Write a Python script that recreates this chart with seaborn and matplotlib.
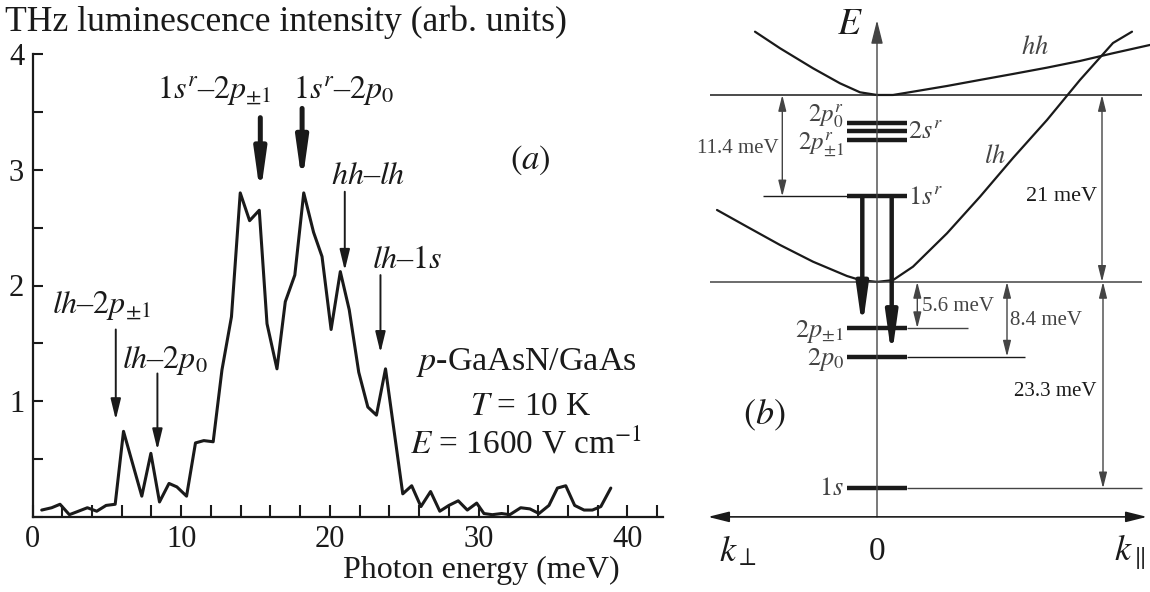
import numpy as np
import matplotlib
matplotlib.use("Agg")
import matplotlib.pyplot as plt
import seaborn as sns

# ---- panel (a): THz luminescence spectrum ----
energy = [0.62, 1.29, 1.85, 2.48, 3.09, 3.69, 4.32, 4.95, 5.56, 6.12,
          7.35, 7.96, 8.54, 9.18, 9.71, 10.36, 10.96, 11.52, 12.15, 12.74,
          13.38, 13.97, 14.60, 15.25, 15.77, 16.44, 17.00, 17.64, 18.24, 18.90,
          19.47, 20.08, 20.70, 21.30, 21.94, 22.55, 23.13, 23.74, 24.90, 25.50,
          26.12, 26.77, 27.39, 28.00, 28.63, 29.24, 29.87, 30.36, 30.92, 31.55,
          32.10, 32.83, 33.45, 34.06, 34.73, 35.30, 35.86, 36.46, 37.09, 37.65,
          38.22, 38.89]
intensity = [0.06, 0.08, 0.11, 0.02, 0.05, 0.08, 0.05, 0.10, 0.11, 0.74,
             0.18, 0.55, 0.13, 0.29, 0.26, 0.18, 0.64, 0.66, 0.65, 1.27,
             1.73, 2.80, 2.56, 2.65, 1.67, 1.28, 1.86, 2.09, 2.80, 2.46,
             2.25, 1.62, 2.12, 1.79, 1.25, 0.95, 0.88, 1.28, 0.20, 0.27,
             0.09, 0.22, 0.05, 0.10, 0.14, 0.06, 0.12, 0.03, 0.02, 0.03,
             0.02, 0.08, 0.07, 0.03, 0.10, 0.25, 0.27, 0.10, 0.06, 0.06,
             0.09, 0.25]

# transition labels and their arrows
trans_labels = [r"$1s^r$–$2p_{\pm1}$", r"$1s^r$–$2p_0$", r"$hh$–$lh$",
                r"$lh$–$1s$", r"$lh$–$2p_{\pm1}$", r"$lh$–$2p_0$"]
trans_text_x = [12.2, 20.9, 22.6, 25.2, 1.3, 6.0]
trans_text_y = [3.62, 3.62, 2.88, 2.15, 1.76, 1.29]
trans_text_ha = ["center", "center", "center", "center", "left", "left"]
trans_arrow_x = [15.32, 18.13, 21.0, 23.4, 5.6, 8.4]
trans_arrow_top = [3.45, 3.53, 2.81, 2.09, 1.62, 1.24]
trans_arrow_tip = [2.78, 2.88, 2.13, 1.42, 0.84, 0.58]
trans_thick = [True, True, False, False, False, False]

# ---- panel (b): energy scheme, E in meV (hh edge = 0), k in arb. units ----
hh_k = [-1.22, -0.97, -0.64, -0.37, -0.17, 0.0, 0.16, 0.36, 0.70, 1.03, 1.36, 1.70, 2.03, 2.36, 2.73]
hh_E = [7.11, 5.25, 3.00, 1.31, 0.30, 0.0, 0.0, 0.37, 1.01, 1.69, 2.36, 3.07, 3.82, 4.69, 5.62]
lh_k = [-1.60, -1.30, -0.97, -0.64, -0.30, -0.17, 0.0, 0.16, 0.36, 0.70, 1.03, 1.36, 1.70, 2.03, 2.36, 2.55]
lh_E = [-12.92, -14.80, -16.85, -18.73, -20.34, -20.79, -21.0, -20.8, -19.29, -15.54,
        -11.43, -7.08, -2.81, 1.69, 5.84, 7.11]

level_names = ["2p0r", "2sr", "2p1r", "1sr", "2p1", "2p0", "1s"]
level_E = [-3.1, -4.0, -5.1, -11.4, -26.2, -29.4, -44.2]
edge_E = [0.0, -21.0]          # hh and lh band edges
k_axis_E = -47.4
E_axis_top = 8.4

# dimension arrows
dim_x = [-0.947, 2.25, 0.403, 1.30, 2.26]
dim_from = [0.0, 0.0, -21.0, -21.0, -21.0]
dim_to = [-11.4, -21.0, -26.2, -29.4, -44.2]
dim_labels = ["11.4 meV", "21 meV", "5.6 meV", "8.4 meV", "23.3 meV"]

sns.set_style("ticks")
plt.rcParams['font.family'] = ['Liberation Serif', 'DejaVu Serif']
plt.rcParams['mathtext.fontset'] = 'stix'

W, H = 1150, 592
fig = plt.figure(figsize=(W / 100, H / 100), dpi=100)
ink = "#1a1a1a"

thick_head = "-|>,head_length=1.0,head_width=0.14"
thin_head = "-|>,head_length=0.7,head_width=0.17"

# ================= panel (a) =================
ax = fig.add_axes([32.5 / W, (H - 517) / H, (663 - 32.5) / W, (517 - 54) / H])
sns.lineplot(x=energy, y=intensity, ax=ax, color=ink, lw=2.2, sort=False)
ax.set_xlim(0, 42.4)
ax.set_ylim(0, 4)
sns.despine(ax=ax)
for s in ["left", "bottom"]:
    ax.spines[s].set_linewidth(1.6)
    ax.spines[s].set_color(ink)
ax.set_xticks([0, 10, 20, 30, 40])
ax.set_xticks(np.arange(0, 43, 2), minor=True)
ax.set_yticks([1, 2, 3, 4])
ax.set_yticks(np.arange(0, 4.01, 0.5), minor=True)
ax.tick_params(which="both", direction="in", width=1.5, length=7, colors=ink,
               labelsize=22, pad=6)
ax.tick_params(axis="x", which="both", length=9)
ax.set_xlabel("")
ax.set_ylabel("")

fig.text(5 / W, 1 - 22 / H, "THz luminescence intensity (arb. units)",
         fontsize=25.7, color=ink, va="center", ha="left")
fig.text(620 / W, 1 - 570 / H, "Photon energy (meV)",
         fontsize=23, color=ink, va="center", ha="right")

for i, lab in enumerate(trans_labels):
    ax.text(trans_text_x[i], trans_text_y[i], lab, fontsize=23, color=ink,
            ha=trans_text_ha[i], va="baseline")
    thick = trans_thick[i]
    ax.annotate("", xy=(trans_arrow_x[i], trans_arrow_tip[i]),
                xytext=(trans_arrow_x[i], trans_arrow_top[i]),
                arrowprops=dict(arrowstyle=thick_head if thick else thin_head,
                                color=ink, lw=3.6 if thick else 1.4,
                                mutation_scale=24 if thick else 18,
                                shrinkA=0, shrinkB=0))

ax.text(33.5, 3.08, r"$(a)$", fontsize=25, color=ink, ha="center", va="center")
ax.text(33.2, 1.27, r"$p$-GaAsN/GaAs", fontsize=24.5, color=ink, ha="center", va="baseline")
ax.text(33.5, 0.88, r"$T$ = 10 K", fontsize=24, color=ink, ha="center", va="baseline")
ax.text(33.2, 0.55, r"$E$ = 1600 V cm$^{-1}$", fontsize=24, color=ink, ha="center", va="baseline")

# ================= panel (b) =================
bx = fig.add_axes([680 / W, 0, 470 / W, 1])
bx.set_xlim(-1.97, 2.73)
bx.set_ylim(-55.84, 10.67)
bx.axis("off")
gray = "#444444"

sns.lineplot(x=hh_k, y=hh_E, ax=bx, color=ink, lw=1.6, sort=False)
sns.lineplot(x=lh_k, y=lh_E, ax=bx, color=ink, lw=1.6, sort=False)

# band edges
bx.hlines(edge_E, -1.67, 2.65, color=[ink, gray], lw=1.1)
# energy axis and k axis
bx.annotate("", xy=(0, E_axis_top), xytext=(0, k_axis_E),
            arrowprops=dict(arrowstyle="-|>,head_length=0.8,head_width=0.2",
                            color=gray, lw=1.0, mutation_scale=18,
                            shrinkA=0, shrinkB=0))
bx.annotate("", xy=(2.70, k_axis_E), xytext=(-1.69, k_axis_E),
            arrowprops=dict(arrowstyle="<|-|>,head_length=0.8,head_width=0.2",
                            color=ink, lw=1.2, mutation_scale=16,
                            shrinkA=0, shrinkB=0))

# impurity levels (thick) and thin extensions
bx.hlines(level_E, -0.30, 0.30, color=ink, lw=3.2)
lv = dict(zip(level_names, level_E))
bx.hlines(lv["1sr"], -1.14, -0.30, color=ink, lw=1.0)
bx.hlines(lv["2p1"], 0.30, 0.913, color=gray, lw=1.0)
bx.hlines(lv["2p0"], 0.30, 1.48, color=ink, lw=1.0)
bx.hlines(lv["1s"], 0.30, 2.65, color=gray, lw=1.0)

# optical transitions 1s^r -> 2p
for kx, target in [(-0.147, lv["2p1"]), (0.147, lv["2p0"])]:
    bx.annotate("", xy=(kx, target), xytext=(kx, lv["1sr"]),
                arrowprops=dict(arrowstyle=thick_head, color=ink, lw=3.2,
                                mutation_scale=24, shrinkA=0, shrinkB=0))

# dimension arrows
for i in range(len(dim_x)):
    bx.annotate("", xy=(dim_x[i], dim_to[i]), xytext=(dim_x[i], dim_from[i]),
                arrowprops=dict(arrowstyle="<|-|>,head_length=0.8,head_width=0.2",
                                color=gray, lw=1.0, mutation_scale=12,
                                shrinkA=0, shrinkB=0))
bx.text(-0.98, -6.0, dim_labels[0], fontsize=15, color=gray, ha="right", va="center")
bx.text(2.20, -11.4, dim_labels[1], fontsize=16, color=ink, ha="right", va="center")
bx.text(0.447, -23.8, dim_labels[2], fontsize=15, color=gray, ha="left", va="center")
bx.text(1.33, -25.3, dim_labels[3], fontsize=15, color=gray, ha="left", va="center")
bx.text(2.20, -33.3, dim_labels[4], fontsize=15, color=ink, ha="right", va="center")

# level labels
fs = 19
bx.text(-0.33, -2.4, r"$2p_0^r$", fontsize=18, color=gray, ha="right", va="center")
bx.text(-0.33, -5.6, r"$2p_{\pm1}^r$", fontsize=18, color=gray, ha="right", va="center")
bx.text(0.31, -4.2, r"$2s^r$", fontsize=fs, color=gray, ha="left", va="center")
bx.text(0.31, -11.6, r"$1s^r$", fontsize=fs, color=gray, ha="left", va="center")
bx.text(-0.33, -26.6, r"$2p_{\pm1}$", fontsize=fs, color=gray, ha="right", va="center")
bx.text(-0.33, -29.7, r"$2p_0$", fontsize=fs, color=gray, ha="right", va="center")
bx.text(-0.33, -44.3, r"$1s$", fontsize=fs, color=gray, ha="right", va="center")

bx.text(1.58, 5.3, r"$hh$", fontsize=19, color=gray, ha="center", va="center")
bx.text(1.18, -6.9, r"$lh$", fontsize=19, color=gray, ha="center", va="center")
bx.text(-0.27, 7.9, r"$E$", fontsize=27, color=ink, ha="center", va="center")
bx.text(-1.13, -36.0, r"$(b)$", fontsize=26, color=ink, ha="center", va="center")
bx.text(-1.39, -51.3, r"$k_{\perp}$", fontsize=26, color=ink, ha="center", va="center")
bx.text(0.0, -51.3, "0", fontsize=24, color=ink, ha="center", va="center")
bx.text(2.53, -51.3, r"$k_{\parallel}$", fontsize=26, color=ink, ha="center", va="center")

fig.savefig("out.png", dpi=100)
